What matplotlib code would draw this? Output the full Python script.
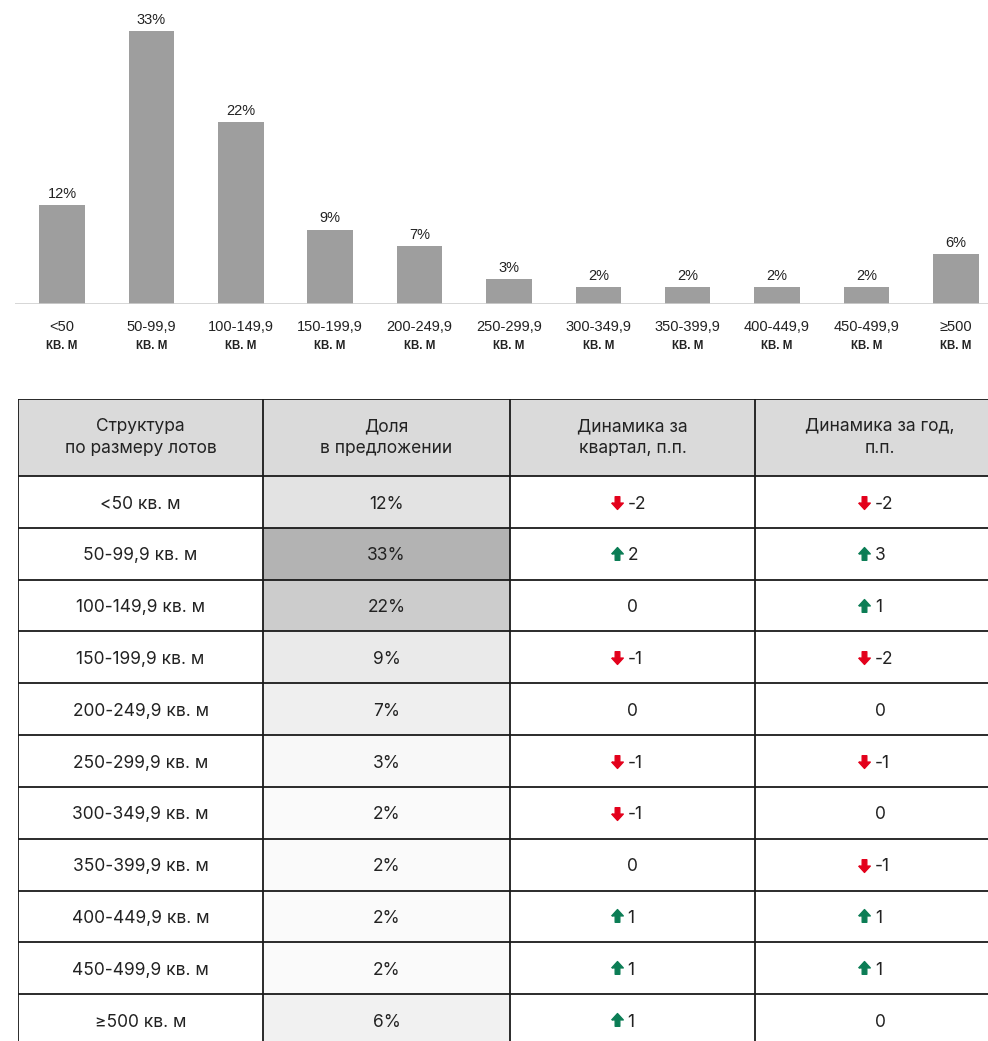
import numpy as np
import matplotlib.pyplot as plt
from matplotlib.patches import Rectangle
from matplotlib.path import Path

# data
ranges = ['<50', '50-99,9', '100-149,9', '150-199,9', '200-249,9', '250-299,9',
          '300-349,9', '350-399,9', '400-449,9', '450-499,9', '≥500']
share = [12, 33, 22, 9, 7, 3, 2, 2, 2, 2, 6]
dyn_q = [-2, 2, 0, -1, 0, -1, -1, 0, 1, 1, 1]
dyn_y = [-2, 3, 1, -2, 0, -1, 0, -1, 1, 1, 0]
headers = ['Структура\nпо размеру лотов', 'Доля\nв предложении',
           'Динамика за\nквартал, п.п.', 'Динамика за год,\nп.п.']

W, H = 988, 1041
fig = plt.figure(figsize=(W / 100, H / 100), dpi=100)

# ---- bar chart ----
ax = fig.add_axes([15 / W, (H - 304) / H, 973 / W, 298 / H])
x = np.arange(len(ranges))
ax.bar(x, share, width=0.51, color='#9e9e9e')
ax.axhline(0, color='#cfcfcf', lw=1.2)
ax.set_xlim(-0.526, 10.36)
ax.set_ylim(0, 36)
ax.axis('off')
for i, v in enumerate(share):
    ax.text(i, v + 0.5, f'{v}%', ha='center', va='bottom', fontsize=10.5,
            family='Liberation Sans', color='#222222')
    ax.text(i, -2.8, ranges[i], ha='center', va='center', fontsize=10.5,
            family='Liberation Sans', color='#222222', clip_on=False)
    ax.text(i, -5.1, 'КВ. М', ha='center', va='center', fontsize=8.3,
            family='Liberation Sans', weight='bold', color='#222222', clip_on=False)

# ---- table ----
hdr_h = 77 / 51.8
tx = fig.add_axes([18 / W, -5 / H, 970 / W, 647 / H])
tx.set_xlim(0, 970)
tx.set_ylim(len(ranges), -hdr_h)
tx.axis('off')
edges = [0, 245, 492, 737, 987]
centers = [(edges[k] + edges[k + 1]) / 2 for k in range(4)]

tx.add_patch(Rectangle((0, -hdr_h), 987, hdr_h, color='#dadada', lw=0))
for i, v in enumerate(share):
    g = 1 - 0.3 * v / max(share)
    tx.add_patch(Rectangle((edges[1], i), edges[2] - edges[1], 1,
                           color=(g, g, g), lw=0))

tx.hlines([-hdr_h] + list(range(len(ranges) + 1)), 0, 987, color='#1a1a1a', lw=1.3)
tx.vlines(edges, -hdr_h, len(ranges), color='#1a1a1a', lw=1.3)

font = 'Inter'
for k, h in enumerate(headers):
    tx.text(centers[k], -hdr_h / 2, h, ha='center', va='center', fontsize=12.5,
            family=font, color='#222222', linespacing=1.35)

arrow_up = Path([(-0.5, 0.05), (0, 0.6), (0.5, 0.05), (0.2, 0.05), (0.2, -0.5),
                 (-0.2, -0.5), (-0.2, 0.05), (-0.5, 0.05)])
arrow_dn = Path([(px, -py) for px, py in arrow_up.vertices])

for i, r in enumerate(ranges):
    yc = i + 0.5
    yt = yc + 0.04
    tx.text(centers[0], yt, f'{r} кв. м', ha='center', va='center',
            fontsize=12.5, family=font, color='#222222')
    tx.text(centers[1], yt, f'{share[i]}%', ha='center', va='center',
            fontsize=12.5, family=font, color='#222222')
    for k, d in ((2, dyn_q[i]), (3, dyn_y[i])):
        c = centers[k]
        if d == 0:
            tx.text(c, yt, '0', ha='center', va='center', fontsize=12.5,
                    family=font, color='#222222')
        else:
            tx.plot(c - 16, yc, marker=arrow_up if d > 0 else arrow_dn, ms=10,
                    color='#0b7d55' if d > 0 else '#e3001b', lw=0)
            tx.text(c - 5, yt, str(d), ha='left', va='center', fontsize=12.5,
                    family=font, color='#222222')

fig.savefig('out.png', dpi=100)
